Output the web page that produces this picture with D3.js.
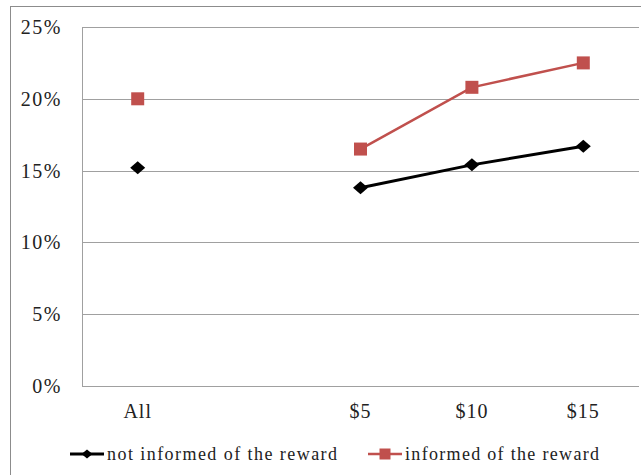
<!DOCTYPE html>
<html>
<head>
<meta charset="utf-8">
<script src="https://cdn.jsdelivr.net/npm/d3@7"></script>
<style>
  html, body { margin: 0; padding: 0; background: #fff; }
  svg { display: block; font-family: "Liberation Serif", "DejaVu Serif", serif; }
</style>
</head>
<body>
<svg id="chart" width="641" height="475"></svg>
<script>
// Categories along the x axis (the second slot is left empty as a spacer)
const categories = ["All", "", "$5", "$10", "$15"];
// Share responding, per reward level
const notInformed = [15.2, null, 13.8, 15.4, 16.7];
const informed    = [20.0, null, 16.5, 20.8, 22.5];
const yTicks = [0, 5, 10, 15, 20, 25];
const seriesNames = ["not informed of the reward", "informed of the reward"];
const seriesColors = ["#000000", "#c0504d"];

const svg = d3.select("#chart");
const W = 641, H = 475;
const plot = { left: 82, right: 639, top: 27, bottom: 386 };

// outer frame
svg.append("rect")
  .attr("x", 10.5).attr("y", 6.5)
  .attr("width", W + 10).attr("height", H + 10)
  .attr("fill", "none").attr("stroke", "#8c8c8c").attr("stroke-width", 1);

const x = d3.scaleBand().domain(d3.range(categories.length))
  .range([plot.left, plot.right]);
const y = d3.scaleLinear().domain([0, 25]).range([plot.bottom, plot.top]);

// horizontal gridlines
svg.append("g")
  .selectAll("line").data(yTicks).join("line")
  .attr("x1", plot.left).attr("x2", plot.right)
  .attr("y1", d => Math.round(y(d)) + 0.5).attr("y2", d => Math.round(y(d)) + 0.5)
  .attr("stroke", "#a0a0a0").attr("stroke-width", 1);

// y axis
const yAxis = d3.axisLeft(y).tickValues(yTicks).tickFormat(d => d + "%").tickSize(0).tickPadding(0);
const gy = svg.append("g").attr("transform", `translate(${plot.left - 20},0)`).call(yAxis);
gy.select(".domain").remove();
gy.selectAll("text").attr("font-size", 20).attr("fill", "#222")
  .attr("letter-spacing", 1.5)
  .attr("font-family", "Liberation Serif, serif");
svg.append("line")
  .attr("x1", plot.left + 0.5).attr("x2", plot.left + 0.5)
  .attr("y1", plot.top).attr("y2", plot.bottom)
  .attr("stroke", "#a0a0a0");

// x axis labels
const xAxis = d3.axisBottom(x).tickFormat(i => categories[i]).tickSize(0).tickPadding(18);
const gx = svg.append("g").attr("transform", `translate(0,${plot.bottom})`).call(xAxis);
gx.select(".domain").remove();
gx.selectAll("text").attr("font-size", 20).attr("fill", "#222")
  .attr("letter-spacing", 1)
  .attr("font-family", "Liberation Serif, serif");

const cx = i => x(i) + x.bandwidth() / 2;

// diamond a little wider than tall
const diamond = (hw, hh) => `M0,${-hh}L${hw},0L0,${hh}L${-hw},0Z`;
const square = s => `M${-s},${-s}H${s}V${s}H${-s}Z`;

function drawSeries(values, color, isDiamond, lw) {
  const pts = values.map((v, i) => ({ i, v })).filter(d => d.v != null);
  // connect only the reward-level points
  const linePts = pts.filter(d => d.i >= 2);
  svg.append("path")
    .datum(linePts)
    .attr("fill", "none").attr("stroke", color).attr("stroke-width", lw)
    .attr("d", d3.line().x(d => cx(d.i)).y(d => y(d.v)));
  svg.append("g").selectAll("path").data(pts).join("path")
    .attr("transform", d => `translate(${cx(d.i)},${y(d.v)})`)
    .attr("d", isDiamond ? diamond(7.5, 6.5) : square(6.5)).attr("fill", color);
}

drawSeries(notInformed, seriesColors[0], true, 3);
drawSeries(informed, seriesColors[1], false, 2.5);

// legend
const legendX = [70, 368];
const legendW = [230, 194];
const legendY = 454;
seriesNames.forEach((name, k) => {
  const g = svg.append("g").attr("transform", `translate(${legendX[k]},${legendY})`);
  g.append("line").attr("x1", 0).attr("x2", 34).attr("y1", 0).attr("y2", 0)
    .attr("stroke", seriesColors[k]).attr("stroke-width", k === 0 ? 3 : 2.5);
  g.append("path").attr("transform", "translate(17,0)")
    .attr("d", k === 0 ? diamond(5.5, 4.5) : square(5.5))
    .attr("fill", seriesColors[k]);
  g.append("text").attr("x", 37).attr("y", 0).attr("dy", "0.32em")
    .attr("font-size", 18).attr("fill", "#222")
    .attr("textLength", legendW[k]).attr("lengthAdjust", "spacing")
    .text(name);
});
</script>
</body>
</html>
